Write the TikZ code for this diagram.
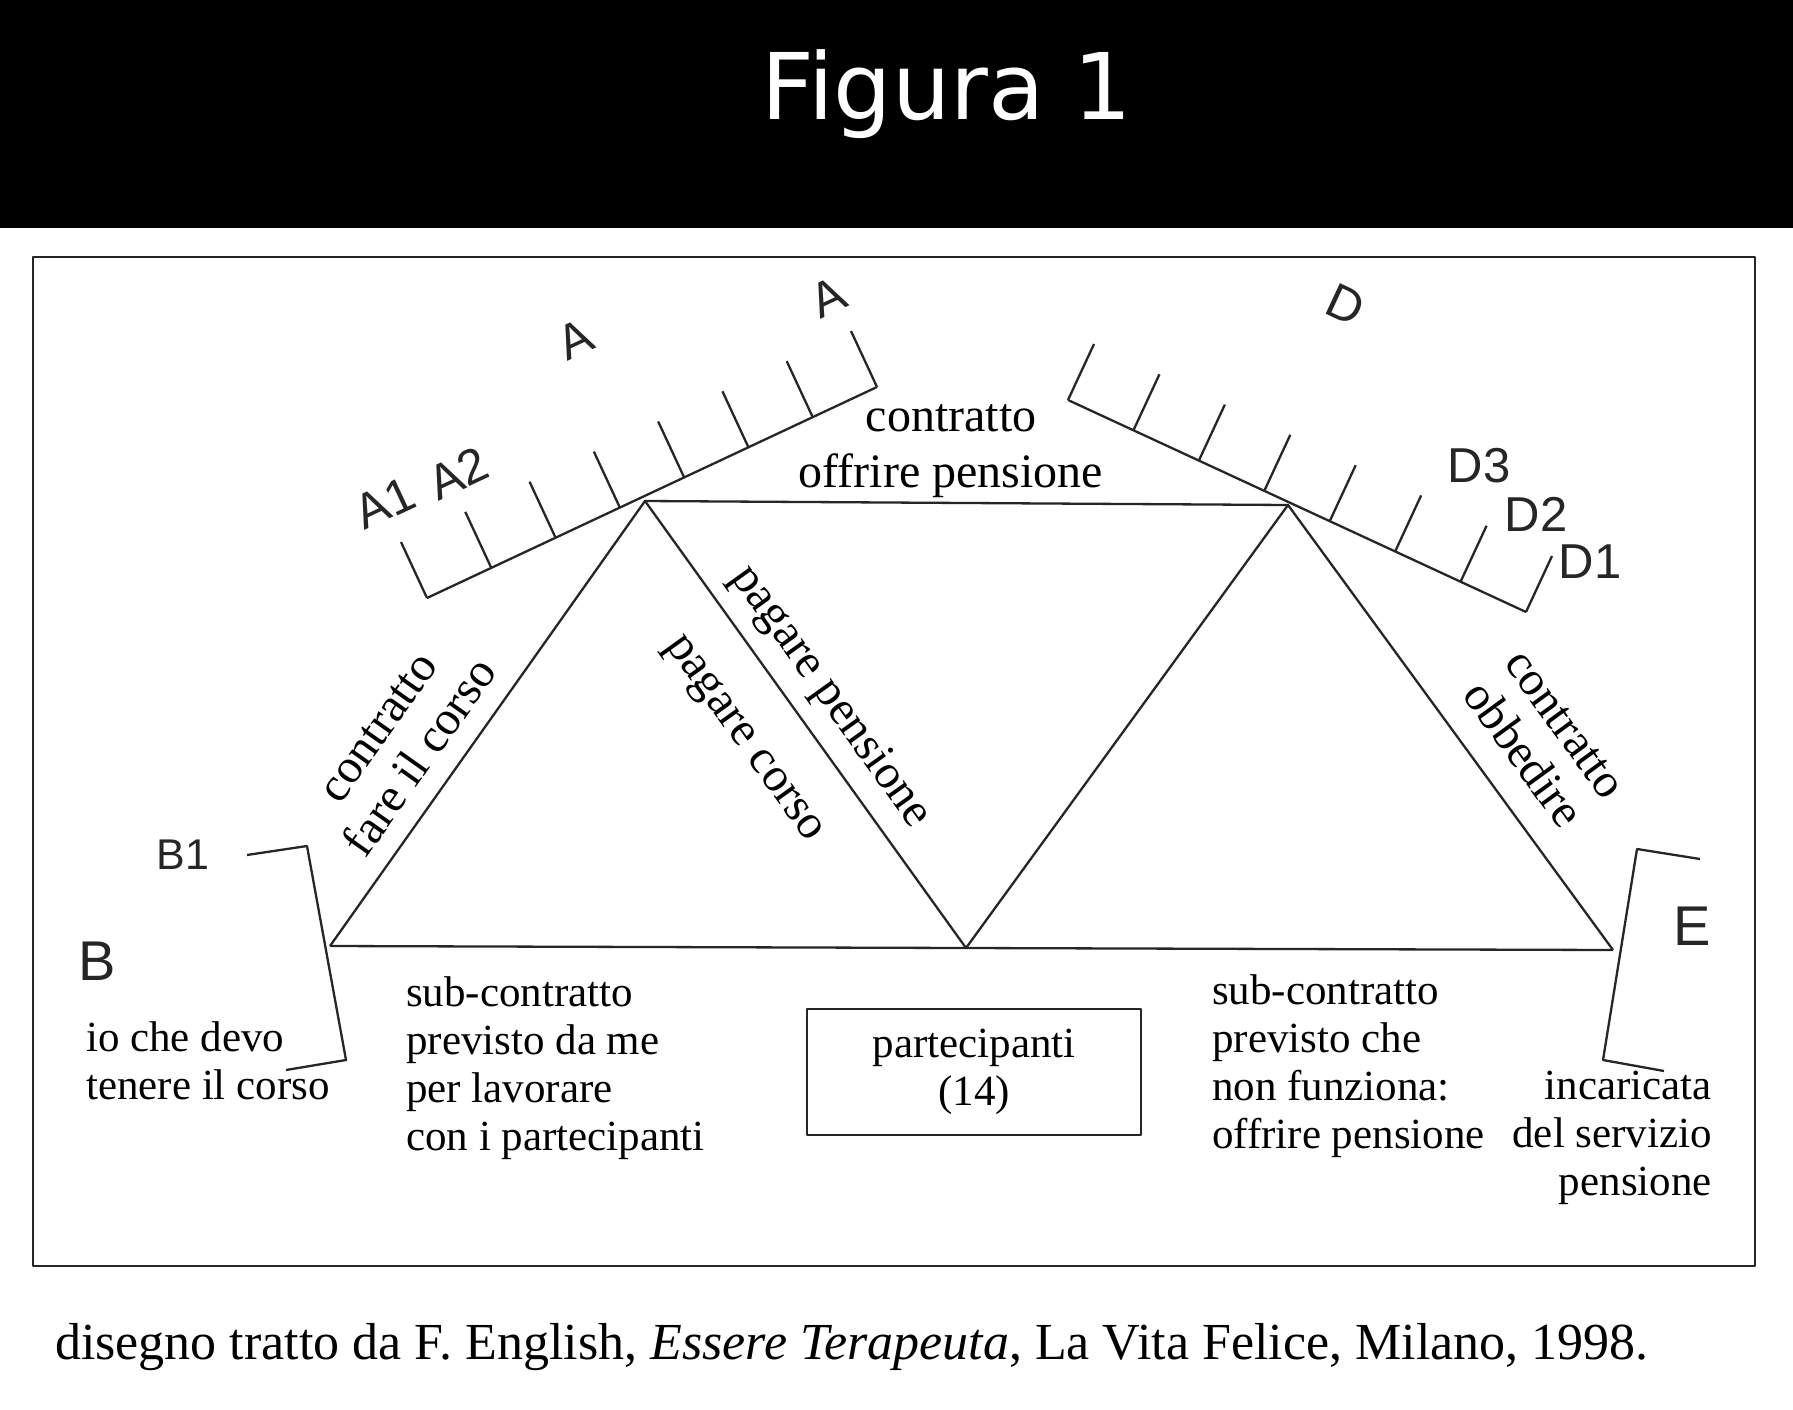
\documentclass[tikz,border=0pt]{standalone}
\usepackage{fontspec}
\setmainfont{Liberation Serif}
\setsansfont{Liberation Sans}
\newfontfamily\titlefont{DejaVu Sans}
\usetikzlibrary{calc}
\begin{document}
\begin{tikzpicture}[x=1pt,y=-1pt,line join=round,
  ln/.style={line width=2.3pt,draw=black!85},
  serif/.style={font=\fontsize{43}{48}\selectfont,inner sep=0pt},
  serifb/.style={font=\fontsize{48}{52}\selectfont,inner sep=0pt},
  lab/.style={font=\sffamily\fontsize{49}{55}\selectfont,inner sep=0pt,text=black!85},
  biglab/.style={font=\sffamily\fontsize{56}{60}\selectfont,inner sep=0pt,text=black!85}]
\useasboundingbox (0,0) rectangle (1793,1410);
\fill[white] (0,0) rectangle (1793,1410);
\fill[black] (0,0) rectangle (1793,228);
\node[font=\titlefont\fontsize{92}{100}\selectfont,text=white,anchor=base,inner sep=0pt] (title) at (947,120) {Figura 1};
% frame
\draw[line width=2.6pt,draw=black!85] (33,257) rectangle (1755,1266);
% key points
\coordinate (PA) at (645,501);
\coordinate (PD) at (1288,505);
\coordinate (B) at (330,946);
\coordinate (M) at (966,948);
\coordinate (E) at (1613,950);
% combs
\coordinate (L0) at (427,598);
\coordinate (L1) at (877,387);
\coordinate (R0) at (1068,400);
\coordinate (R1) at (1526,612);
\draw[ln] (L0) -- (L1);
\foreach \k in {0,...,7} \draw[ln] ($(L0)!\k/7!(L1)$) -- ++(-26,-56);
\draw[ln] (R0) -- (R1);
\foreach \k in {0,...,7} \draw[ln] ($(R0)!\k/7!(R1)$) -- ++(26,-56);
% triangles
\draw[ln] (B) -- (PA) -- (M) -- (PD) -- (E);
\draw[ln] (B) -- (M) -- (E);
\draw[ln] (PA) -- (PD);
% brackets
\coordinate (b1) at (247,855);
\coordinate (b2) at (307,846);
\coordinate (b3) at (346,1060);
\coordinate (b4) at (286,1070);
\draw[ln] (b1) -- (b2) -- (b3) -- (b4);
\coordinate (e1) at (1700,859);
\coordinate (e2) at (1637,849);
\coordinate (e3) at (1603,1060);
\coordinate (e4) at (1664,1071);
\draw[ln] (e1) -- (e2) -- (e3) -- (e4);
% sans labels
\node[lab,rotate=25] (A1) at (385,503) {A1};
\node[lab,rotate=25] (A2) at (458,473) {A2};
\node[lab,rotate=25] (Am) at (575,339) {A};
\node[lab,rotate=25] (Ar) at (828,297) {A};
\node[lab,rotate=-25] (D) at (1346,305) {D};
\node[lab] (D3) at (1479,466) {D3};
\node[lab] (D2) at (1536,514) {D2};
\node[lab] (D1) at (1590,562) {D1};
\node[biglab] (Bl) at (97,961) {B};
\node[lab,font=\sffamily\fontsize{43}{48}\selectfont] (B1) at (183,855) {B1};
\node[biglab] (El) at (1692,926) {E};
% serif texts
\node[serifb,anchor=base] (top1) at (951,431) {contratto};
\node[serifb,anchor=base] (top2) at (951,487) {offrire pensione};
\node[serifb,align=center,rotate=54.7] (lft) at (400,743) {contratto\\fare il corso};
\node[serifb,rotate=-54.4] (pc) at (742,740) {pagare corso};
\node[serifb,rotate=-54.4] (pp) at (830,697) {pagare pensione};
\node[serifb,align=center,rotate=-53.9] (ob) at (1543,740) {contratto\\obbedire};
\node[serif,align=left,anchor=north west] (io) at (86,1021) {io che devo\\tenere il corso};
\node[serif,align=left,anchor=north west] (sub1) at (406,976) {sub-contratto\\previsto da me\\per lavorare\\con i partecipanti};
\node[serif,align=left,anchor=north west] (sub2) at (1212,974) {sub-contratto\\previsto che\\non funziona:\\offrire pensione};
\node[serif,align=right,anchor=north east] (inc) at (1712,1071) {incaricata\\del servizio\\pensione};
\node[serif,align=center,draw=black!85,line width=2.2pt,minimum width=334,minimum height=126,inner sep=0pt] (box) at (974,1072) {partecipanti\\(14)};
% caption
\node[anchor=base west,inner sep=0pt,font=\fontsize{52}{56}\selectfont] (cap) at (55,1359) {disegno tratto da F. English, \textit{Essere Terapeuta}, La Vita Felice, Milano, 1998.};
\end{tikzpicture}
\end{document}
